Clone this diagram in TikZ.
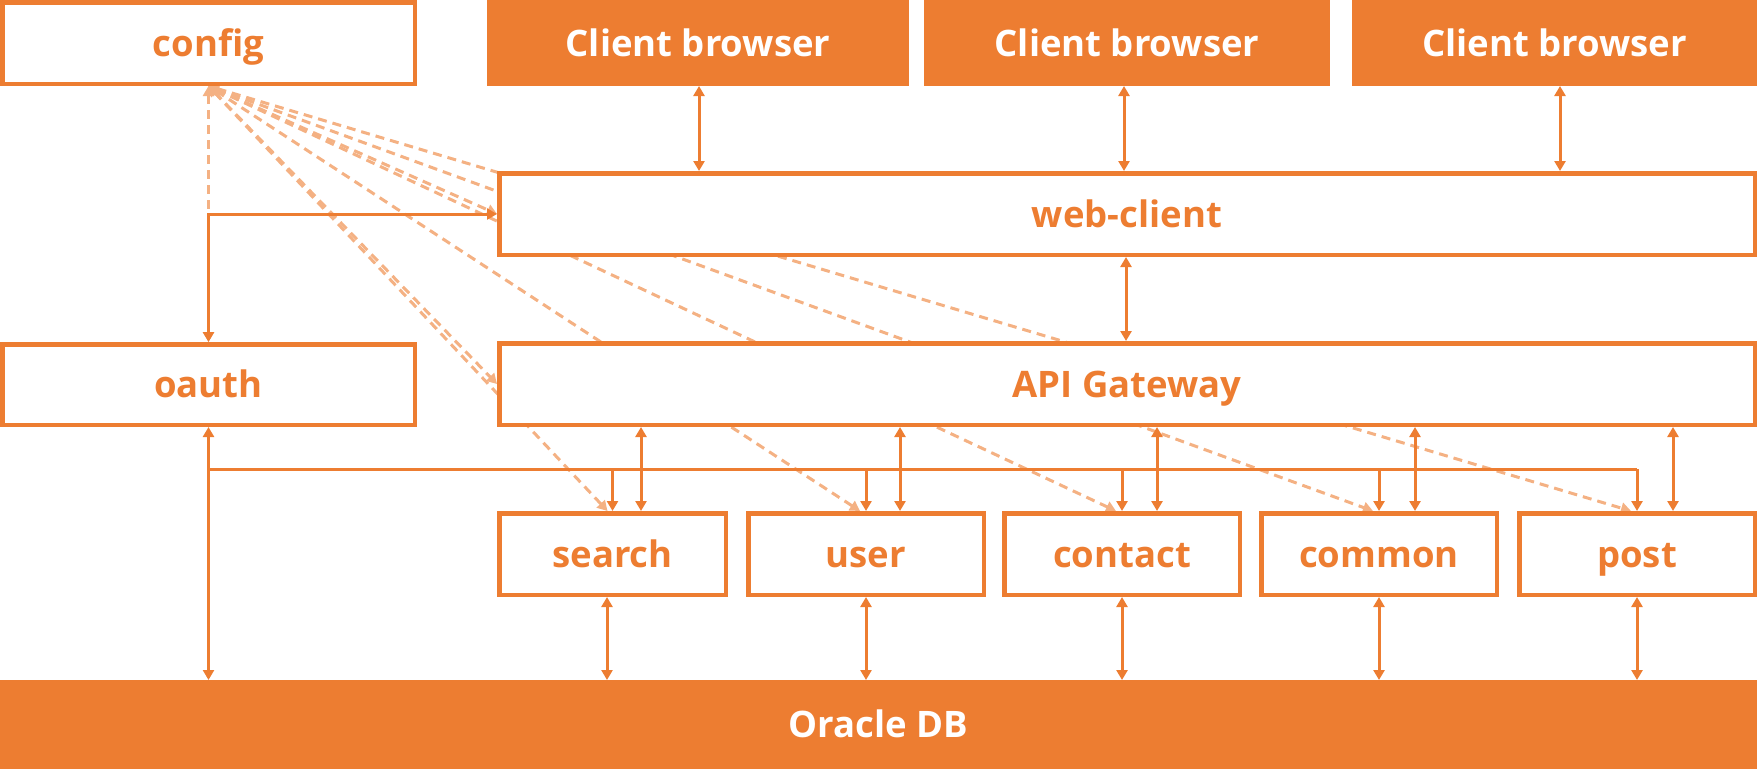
\documentclass[tikz,border=0pt]{standalone}
\usepackage{fontspec}
\setmainfont{Open Sans}
\usetikzlibrary{arrows.meta}
\definecolor{org}{HTML}{ED7D31}
\definecolor{lorg}{HTML}{F4B183}
\pgfdeclarelayer{bg}
\pgfsetlayers{bg,main}
\begin{document}
\begin{tikzpicture}[x=1pt,y=-1pt,
  box/.style={draw=org,line width=4.5pt,fill=white,inner sep=0pt,outer sep=2.25pt,
    minimum height=81.5pt,text=org,text height=26pt,text depth=0pt,
    font=\fontsize{36.5}{42}\selectfont\bfseries},
  fbox/.style={fill=org,draw=none,inner sep=0pt,outer sep=0pt,
    text=white,text height=26pt,text depth=0pt,
    font=\fontsize{36.5}{42}\selectfont\bfseries},
  bi/.style={draw=org,line width=3pt,{Triangle[length=10pt,width=11pt]}-{Triangle[length=10pt,width=11pt]}},
  uni/.style={draw=org,line width=3pt,-{Triangle[length=10pt,width=11pt]}},
  dsh/.style={draw=lorg,line width=3pt,dash pattern=on 9pt off 6pt,
    {Triangle[length=10pt,width=11pt]}-{Triangle[length=10pt,width=11pt]}},
]
\useasboundingbox (0,0) rectangle (1757,769);
\node[box,minimum width=412.5pt] (config) at (208.5,43) {config};
\node[box,minimum width=412.5pt,minimum height=80.5pt] (oauth) at (208.5,384.5) {oauth};
\node[box,minimum width=1255.5pt] (web) at (1127,214) {web-client};
\node[box,minimum width=1255.5pt] (api) at (1127,384) {API Gateway};
\node[box,minimum width=226.5pt] (search) at (612.5,554) {search};
\node[box,minimum width=235.5pt] (user) at (866,554) {user};
\node[box,minimum width=235.5pt] (contact) at (1122,554) {contact};
\node[box,minimum width=235.5pt] (common) at (1379,554) {common};
\node[box,minimum width=235.5pt] (post) at (1637,554) {post};
\node[fbox,minimum width=422pt,minimum height=86pt] (cb1) at (698,43) {Client browser};
\node[fbox,minimum width=406pt,minimum height=86pt] (cb2) at (1127,43) {Client browser};
\node[fbox,minimum width=405pt,minimum height=86pt] (cb3) at (1554.5,43) {Client browser};
\node[fbox,minimum width=1757pt,minimum height=89pt] (db) at (878.5,724.5) {Oracle DB};

% dashed config links (behind boxes)
\begin{pgfonlayer}{bg}
\draw[dsh] (config.south) -- (web.west);
\draw[dsh] (config.south) -- (api.west);
\draw[dsh] (config.south) -- ([xshift=-5pt]search.north);
\draw[dsh] (config.south) -- ([xshift=-6pt]user.north);
\draw[dsh] (config.south) -- ([xshift=-6pt]contact.north);
\draw[dsh] (config.south) -- ([xshift=-6pt]common.north);
\draw[dsh] (config.south) -- ([xshift=-6pt]post.north);
\draw[dsh] (config.south) -- (oauth.north);
\end{pgfonlayer}

% client browsers <-> web-client
\draw[bi] (699,0 |- cb1.south) -- (699,0 |- web.north);
\draw[bi] (1124,0 |- cb2.south) -- (1124,0 |- web.north);
\draw[bi] (1560,0 |- cb3.south) -- (1560,0 |- web.north);
% web-client <-> API
\draw[bi] (1126,0 |- web.south) -- (1126,0 |- api.north);
% oauth <-> web-client
\draw[bi] (oauth.north) |- (web.west);
% oauth <-> DB
\draw[bi] (oauth.south) -- (oauth.south |- db.north);
% oauth bus to services
\coordinate (bus) at (208.5,469);
\draw[draw=org,line width=3pt] (bus) -- (post.north |- bus);
\foreach \s in {search,user,contact,common,post}{
  \draw[uni] (\s.north |- bus) -- (\s.north);
}
% API <-> services
\draw[bi] (641,0 |- api.south) -- (641,0 |- search.north);
\draw[bi] (900,0 |- api.south) -- (900,0 |- user.north);
\draw[bi] (1157,0 |- api.south) -- (1157,0 |- contact.north);
\draw[bi] (1415,0 |- api.south) -- (1415,0 |- common.north);
\draw[bi] (1673,0 |- api.south) -- (1673,0 |- post.north);
% services <-> DB
\draw[bi] (607,0 |- search.south) -- (607,0 |- db.north);
\draw[bi] (user.south) -- (user.south |- db.north);
\draw[bi] (contact.south) -- (contact.south |- db.north);
\draw[bi] (common.south) -- (common.south |- db.north);
\draw[bi] (post.south) -- (post.south |- db.north);
\end{tikzpicture}
\end{document}
